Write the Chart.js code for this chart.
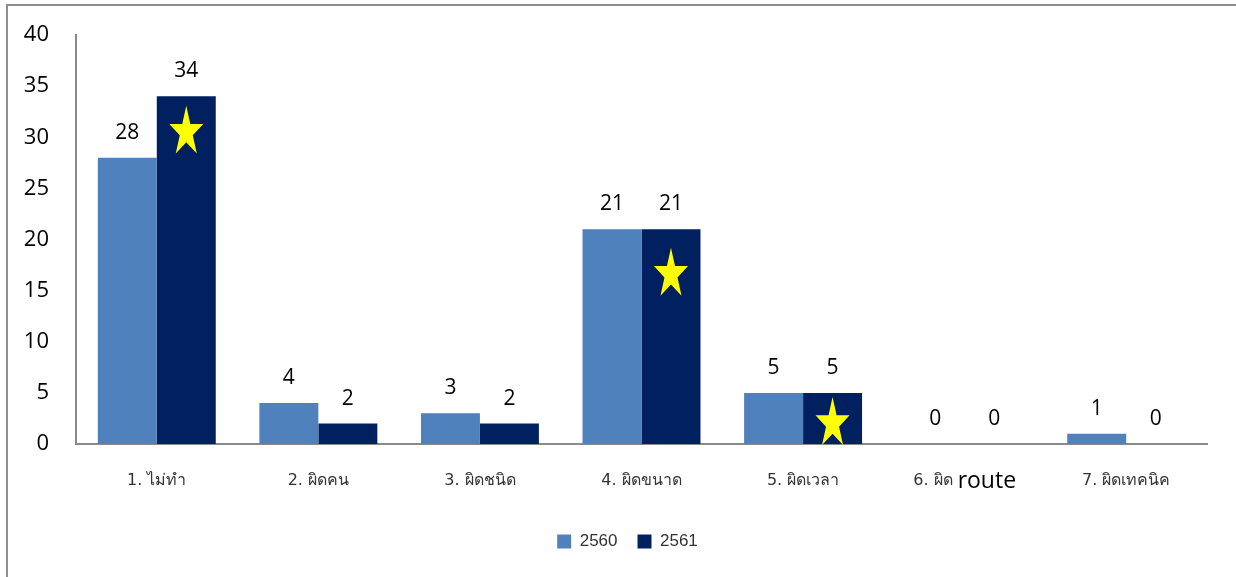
<!DOCTYPE html>
<html>
<head>
<meta charset="utf-8">
<script src="https://cdn.jsdelivr.net/npm/chart.js@4.4.1/dist/chart.umd.min.js"></script>
<style>
  html, body { margin: 0; padding: 0; background: #fff; overflow: hidden; }
  #wrap { position: relative; width: 1236px; height: 577px; }
  #frame { position: absolute; left: 6px; top: 4px; width: 1250px; height: 600px;
           border: 2px solid #8e8e8e; box-sizing: border-box; pointer-events: none; }
  canvas { position: absolute; left: 0; top: 0; }
</style>
</head>
<body>
<div id="wrap">
  <canvas id="c" width="1236" height="577"></canvas>
  <div id="frame"></div>
</div>
<script>
// Error categories and counts per year
const categories = ['1. ไม่ทำ', '2. ผิดคน', '3. ผิดชนิด', '4. ผิดขนาด', '5. ผิดเวลา', '6. ผิด route', '7. ผิดเทคนิค'];
const series2560 = [28, 4, 3, 21, 5, 0, 1];
const series2561 = [34, 2, 2, 21, 5, 0, 0];
// Height (in axis units) at which a highlight star sits inside the 2561 bar
const starLevels = [30.5, null, null, 16.6, 2.0, null, null];
const yTicks = [0, 5, 10, 15, 20, 25, 30, 35, 40];

const SMALL_FONT = '16px "DejaVu Sans", "Noto Sans", sans-serif';
const LATIN_FONT = '23px "Open Sans", "Liberation Sans", sans-serif';

// Value labels above each bar
const valueLabels = {
  id: 'valueLabels',
  afterDatasetsDraw(chart) {
    const ctx = chart.ctx;
    ctx.save();
    ctx.font = '21px "Open Sans", "Liberation Sans", sans-serif';
    ctx.fillStyle = '#000';
    ctx.textAlign = 'center';
    ctx.textBaseline = 'middle';
    chart.data.datasets.forEach((ds, di) => {
      chart.getDatasetMeta(di).data.forEach((bar, i) => {
        ctx.fillText(String(ds.data[i]), bar.x, bar.y - 25);
      });
    });
    ctx.restore();
  }
};

// Yellow five-pointed stars over selected 2561 bars
const starMarks = {
  id: 'starMarks',
  afterDatasetsDraw(chart) {
    const ctx = chart.ctx;
    const y = chart.scales.y;
    const bars = chart.getDatasetMeta(1).data;
    const rx = 17.9, ry = 26.5, inner = 0.382;
    ctx.save();
    ctx.fillStyle = '#FFFF00';
    starLevels.forEach((lvl, i) => {
      if (lvl === null) return;
      const cx = bars[i].x;
      const cy = y.getPixelForValue(lvl);
      ctx.beginPath();
      for (let k = 0; k < 10; k++) {
        const ang = -Math.PI / 2 + k * Math.PI / 5;
        const r = (k % 2 === 0) ? 1 : inner;
        const px = cx + Math.cos(ang) * r * rx;
        const py = cy + Math.sin(ang) * r * ry;
        if (k === 0) ctx.moveTo(px, py); else ctx.lineTo(px, py);
      }
      ctx.closePath();
      ctx.fill();
    });
    ctx.restore();
  }
};

// Category labels: Latin words set in a larger face than the rest
const categoryLabels = {
  id: 'categoryLabels',
  afterDraw(chart) {
    const ctx = chart.ctx;
    const x = chart.scales.x;
    const baseY = chart.chartArea.bottom + 37;
    ctx.save();
    ctx.textBaseline = 'middle';
    ctx.textAlign = 'left';
    categories.forEach((label, i) => {
      const parts = label.split(/([A-Za-z]+)/).filter(s => s.length);
      const runs = parts.map(s => ({
        text: s,
        font: /^[A-Za-z]+$/.test(s) ? LATIN_FONT : SMALL_FONT,
        color: /^[A-Za-z]+$/.test(s) ? '#000' : '#333'
      }));
      let total = 0;
      runs.forEach(r => { ctx.font = r.font; r.w = ctx.measureText(r.text).width; total += r.w; });
      let cx = x.getPixelForValue(i) - total / 2;
      runs.forEach(r => {
        ctx.font = r.font;
        ctx.fillStyle = r.color;
        ctx.fillText(r.text, cx, baseY);
        cx += r.w;
      });
    });
    ctx.restore();
  }
};

// Centre the legend under the plot area rather than the whole canvas
const legendShift = {
  id: 'legendShift',
  afterLayout(chart) {
    const lg = chart.legend;
    if (!lg) return;
    const dx = (chart.chartArea.left - 28) / 2;
    lg.left += dx;
    lg.right += dx;
  }
};

new Chart(document.getElementById('c'), {
  type: 'bar',
  data: {
    labels: categories,
    datasets: [
      { label: '2560', data: series2560, backgroundColor: '#4F81BD' },
      { label: '2561', data: series2561, backgroundColor: '#00205F' }
    ]
  },
  plugins: [valueLabels, starMarks, categoryLabels, legendShift],
  options: {
    responsive: false,
    animation: false,
    devicePixelRatio: 1,
    layout: { padding: { top: 35, right: 29, bottom: 17, left: 0 } },
    datasets: { bar: { categoryPercentage: 0.73, barPercentage: 1.0 } },
    scales: {
      x: {
        grid: { display: false },
        border: { display: true, color: '#8a8a8a', width: 2 },
        ticks: { display: false },
        afterFit(s) { s.height = 69; }
      },
      y: {
        min: 0, max: 40,
        afterBuildTicks(s) { s.ticks = yTicks.map(v => ({ value: v })); },
        grid: { display: false },
        border: { display: true, color: '#8a8a8a', width: 2 },
        ticks: {
          padding: 19,
          color: '#000',
          font: { family: '"Open Sans", "Liberation Sans", sans-serif', size: 22 }
        },
        afterFit(s) { s.width = 76; }
      }
    },
    plugins: {
      legend: {
        position: 'bottom',
        labels: {
          boxWidth: 14, boxHeight: 14, padding: 20,
          color: '#333',
          font: { family: '"Liberation Sans", Arial, sans-serif', size: 17 }
        }
      },
      tooltip: { enabled: false }
    }
  }
});
</script>
</body>
</html>
